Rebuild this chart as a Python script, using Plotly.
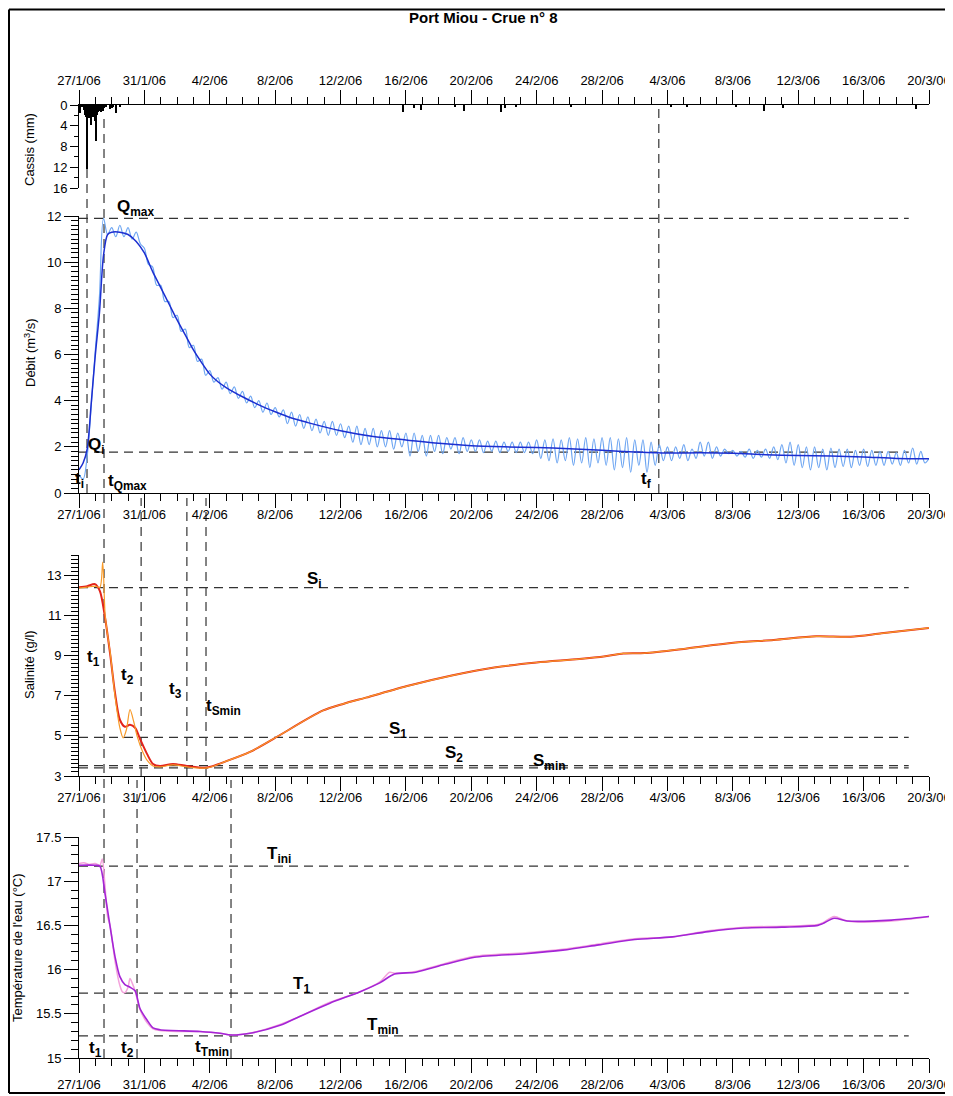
import pandas as pd
import plotly.graph_objects as go

# page body has an 8 px margin: the figure is drawn at (8, 8) in the window
OFF = 8
W, H = 945, 1088
START = pd.Timestamp("2006-01-27")
END = pd.Timestamp("2006-03-20")

# ---------------- DATA ----------------
# Rain at Cassis (hours after 27/1/06 00:00, mm)
rain_hours = [1, 2, 4, 7, 9, 10, 12, 14, 15, 17, 18, 20, 21, 23, 24, 25, 27, 28, 31, 33, 35, 37, 40, 46, 48, 50, 55, 60,
              475, 476, 492, 502, 552, 566, 619, 625, 641, 722, 869, 893, 965, 1006, 1034, 1229]
rain_mm = [1.5, 1.2, 0.4, 0.9, 2.0, 2.3, 12.3, 2.2, 2.6, 3.8, 2.0, 2.4, 2.2, 2.8, 3.0, 7.0, 2.0, 1.4, 1.2, 1.3, 1.1, 0.6, 0.3, 0.8, 0.5, 0.4, 1.5, 0.3,
           1.3, 0.9, 0.5, 0.9, 0.2, 1.2, 1.4, 0.6, 0.2, 0.2, 0.2, 0.4, 0.2, 1.2, 0.5, 0.8]

# Discharge (m3/s) - smoothed
q_smooth_days = [0, 0.25, 0.5, 0.75, 1.0, 1.25, 1.5, 1.75, 2.0, 2.5, 3.0, 3.5, 4.0, 4.5, 5.0, 5.5, 6.0, 6.5, 7.0, 7.5, 8.0,
                 8.5, 9, 10, 11, 12, 13, 14, 16, 18, 20, 22, 24, 26, 28, 30, 32, 34, 36, 38, 40, 42, 44, 46, 48, 50, 52]
q_smooth = [1.0, 1.3, 1.9, 3.9, 6.0, 7.8, 10.3, 11.2, 11.3, 11.3, 11.2, 10.9, 10.4, 9.6, 8.9, 8.2, 7.5, 6.85, 6.2, 5.65, 5.15,
            4.82, 4.57, 4.17, 3.82, 3.52, 3.25, 3.05, 2.7, 2.45, 2.3, 2.15, 2.05, 2.0, 1.97, 1.92, 1.85, 1.78, 1.73, 1.74,
            1.72, 1.66, 1.62, 1.6, 1.56, 1.5, 1.48]

# Discharge (m3/s) - raw record, one value every 6 hours
q_raw_step_days = 0.25
q_raw = [
    0.8, 0.6, 1.6, 3.8, 6.2, 8.5, 11.9, 11.2, 11.5, 11.1, 11.6, 11.1, 11.5, 11.0, 11.3, 10.8,
    10.6, 9.9, 9.8, 9.0, 9.0, 8.3, 8.3, 7.6, 7.7, 7.0, 7.1, 6.3, 6.4, 5.7, 5.8, 5.1,
    5.3, 4.8, 5.0, 4.5, 4.8, 4.3, 4.6, 4.1, 4.4, 3.9, 4.2, 3.7, 4.0, 3.5, 3.9, 3.4,
    3.7, 3.3, 3.6, 3.0, 3.5, 2.9, 3.4, 2.8, 3.3, 2.7, 3.2, 2.6, 3.1, 2.5, 3.1, 2.5,
    3.0, 2.4, 2.9, 2.2, 2.9, 2.1, 2.8, 2.1, 2.8, 2.0, 2.7, 2.0, 2.7, 1.9, 2.6, 2.0,
    2.6, 1.6, 2.6, 1.8, 2.5, 1.6, 2.5, 1.8, 2.5, 1.7, 2.4, 1.9, 2.4, 1.7, 2.4, 1.8,
    2.3, 1.8, 2.3, 1.75, 2.25, 1.8, 2.25, 1.75, 2.2, 1.8, 2.2, 1.75, 2.2, 1.75, 2.2, 1.7,
    2.3, 1.5, 2.3, 1.4, 2.35, 1.3, 2.3, 1.4, 2.4, 1.2, 2.35, 1.3, 2.4, 1.1, 2.35, 1.3,
    2.4, 1.2, 2.4, 1.0, 2.35, 1.1, 2.4, 0.9, 2.3, 1.2, 2.3, 0.9, 2.2, 1.2, 2.1, 1.4,
    2.0, 1.4, 2.0, 1.5, 2.1, 1.4, 1.9, 1.5, 2.2, 1.6, 2.2, 1.5, 2.0, 1.6, 1.9, 1.7,
    1.85, 1.6, 1.8, 1.55, 1.9, 1.5, 1.85, 1.55, 1.9, 1.5, 2.0, 1.45, 2.1, 1.3, 2.2, 1.2,
    2.1, 1.1, 2.0, 1.0, 2.0, 1.1, 1.9, 1.0, 1.95, 1.1, 1.9, 1.15, 1.9, 1.1, 1.85, 1.2,
    1.9, 1.15, 1.85, 1.2, 1.8, 1.2, 1.8, 1.25, 1.75, 1.2, 1.85, 1.3, 1.95, 1.25, 1.8, 1.3, 1.5,
]

# Salinity (g/l)
sal_days = [0, 0.5, 0.98, 1.28, 1.59, 1.9, 2.2, 2.5, 2.81, 3.12, 3.43, 3.73, 4.16, 4.53, 4.95, 5.75, 6.6, 7.83, 9.05,
            10.46, 11.9, 14.9, 16.2, 17.55, 20.2, 22.8, 25.4, 28.0, 30.6, 32.2, 33.3, 34.6, 37.2, 39.9, 42.5, 45.1,
            47.2, 49.1, 52]
sal_smooth = [12.4, 12.45, 12.55, 12.2, 10.9, 9.1, 7.15, 5.8, 5.45, 5.55, 5.4, 4.85, 4.1, 3.6, 3.5, 3.6, 3.5, 3.42, 3.75,
              4.2, 4.85, 6.25, 6.6, 6.9, 7.5, 8.0, 8.4, 8.65, 8.82, 8.96, 9.1, 9.12, 9.35, 9.62, 9.77, 9.95,
              9.93, 10.1, 10.37]
sal_raw_days = [0, 0.5, 0.98, 1.28, 1.45, 1.6, 1.75, 1.9, 2.2, 2.5, 2.7, 2.9, 3.12, 3.35, 3.55, 3.9, 4.2, 4.53, 4.95,
                5.75, 6.6, 7.83, 9.05, 10.46, 11.9, 14.9, 16.2, 17.55, 20.2, 22.8, 25.4, 28.0, 30.6, 32.2, 33.3,
                34.6, 37.2, 39.9, 42.5, 45.1, 47.2, 49.1, 52]
sal_raw = [12.35, 12.4, 12.45, 12.4, 13.65, 11.0, 10.0, 9.2, 7.0, 5.4, 4.9, 5.3, 6.3, 5.7, 5.0, 4.2, 3.75, 3.5, 3.45,
           3.55, 3.45, 3.4, 3.75, 4.2, 4.85, 6.25, 6.6, 6.9, 7.5, 8.0, 8.4, 8.65, 8.82, 8.96, 9.1,
           9.12, 9.35, 9.62, 9.77, 9.95, 9.93, 10.1, 10.37]

# Water temperature (deg C)
temp_days = [0, 0.98, 1.28, 1.59, 1.9, 2.2, 2.5, 2.81, 3.12, 3.43, 3.73, 4.16, 4.53, 4.95, 7.4, 8.62, 9.3, 10.46, 12.3,
             13.5, 15.35, 17.2, 18.4, 19.3, 20.6, 22.4, 24.2, 27.3, 29.6, 31.8, 34.0, 36.3, 38.5, 40.7, 43.0, 45.2,
             45.5, 46.2, 47.0, 49.7, 52]
temp_smooth = [17.18, 17.18, 17.17, 16.86, 16.49, 16.15, 15.92, 15.83, 15.80, 15.76, 15.56, 15.43, 15.34, 15.32, 15.30,
               15.28, 15.26, 15.28, 15.37, 15.47, 15.62, 15.75, 15.85, 15.95, 15.97, 16.06, 16.14, 16.18, 16.22,
               16.28, 16.34, 16.37, 16.43, 16.47, 16.48, 16.5, 16.52, 16.58, 16.55, 16.56, 16.6]
temp_raw_days = [0, 0.3, 0.6, 0.98, 1.28, 1.42, 1.59, 1.75, 1.9, 2.2, 2.5, 2.65, 2.81, 3.0, 3.12, 3.25, 3.43, 3.73,
                 4.16, 4.53, 4.95, 6.0, 7.4, 8.62, 9.3, 10.46, 12.3, 13.5, 15.35, 17.2, 18.4, 19.0, 19.3, 20.6, 22.4,
                 24.2, 27.3, 29.6, 31.8, 34.0, 36.3, 38.5, 40.7, 43.0, 45.2, 45.5, 46.2, 47.0, 49.7, 52]
temp_raw = [17.2, 17.21, 17.19, 17.2, 17.18, 17.25, 16.95, 16.6, 16.5, 16.1, 15.82, 15.75, 15.74, 15.8, 15.9, 15.85,
            15.76, 15.55, 15.4, 15.33, 15.31, 15.3, 15.3, 15.28, 15.26, 15.28, 15.38, 15.47, 15.63, 15.75, 15.86,
            15.97, 15.96, 15.98, 16.07, 16.15, 16.19, 16.23, 16.29, 16.35, 16.37, 16.44, 16.48, 16.49, 16.51, 16.53,
            16.6, 16.55, 16.55, 16.6]

# Reference levels
q_levels = {"Qmax": 11.9, "Qi": 1.77}
s_levels = {"Si": 12.38, "S1": 4.92, "S2": 3.52, "Smin": 3.4}
t_levels = {"Tini": 17.17, "T1": 15.735, "Tmin": 15.25}
level_end_day = 50.76

# Characteristic times (days after 27/1/06)
t_i, t_qmax, t_f = 0.49, 1.53, 35.47
t2_sal, t3_sal, t_smin = 3.8, 6.6, 7.77
t2_temp, t_tmin = 3.55, 9.3

x_ticks_label = "%-d/%-m/%y"

# ---------------- HELPERS ----------------
def dt(days):
    return [START + pd.Timedelta(days=float(d)) for d in days]

def px(x):  # window pixel -> paper fraction
    return (x - OFF) / W

def py(y):
    return 1 - (y - OFF) / H

FONT = "Liberation Sans, Arial, sans-serif"
DASH_COLOR = "#333333"
DASH = "9px,6px"

fig = go.Figure()

# Rain bars
fig.add_trace(go.Bar(x=[START + pd.Timedelta(hours=h) for h in rain_hours], y=rain_mm,
                     width=1.5 * 3600 * 1000, marker=dict(color="black", line=dict(width=0)),
                     xaxis="x", yaxis="y", showlegend=False))

# Discharge
q_raw_days = [i * q_raw_step_days for i in range(len(q_raw))]
fig.add_trace(go.Scatter(x=dt(q_raw_days), y=q_raw, mode="lines",
                         line=dict(color="#6ea6f2", width=1.2, shape="spline", smoothing=1.0),
                         xaxis="x2", yaxis="y2", showlegend=False))
fig.add_trace(go.Scatter(x=dt(q_smooth_days), y=q_smooth, mode="lines",
                         line=dict(color="#1c2fd0", width=1.5, shape="spline", smoothing=0.8),
                         xaxis="x2", yaxis="y2", showlegend=False))

# Salinity (smoothed red below, raw orange on top)
fig.add_trace(go.Scatter(x=dt(sal_days), y=sal_smooth, mode="lines",
                         line=dict(color="#e3241b", width=2.0, shape="spline", smoothing=0.8),
                         xaxis="x3", yaxis="y3", showlegend=False))
fig.add_trace(go.Scatter(x=dt(sal_raw_days), y=sal_raw, mode="lines",
                         line=dict(color="#f79a2a", width=1.2, shape="spline", smoothing=0.8),
                         xaxis="x3", yaxis="y3", showlegend=False))

# Temperature
fig.add_trace(go.Scatter(x=dt(temp_raw_days), y=temp_raw, mode="lines",
                         line=dict(color="#f4a3dc", width=1.5, shape="spline", smoothing=0.8),
                         xaxis="x4", yaxis="y4", showlegend=False))
fig.add_trace(go.Scatter(x=dt(temp_days), y=temp_smooth, mode="lines",
                         line=dict(color="#a424d6", width=1.6, shape="spline", smoothing=0.8),
                         xaxis="x4", yaxis="y4", showlegend=False))

# ---------------- AXES ----------------
XDOM = [px(79), px(929)]
DAY_MS = 86400000


def xaxis(anchor, side, standoff=None):
    ax = dict(domain=XDOM, anchor=anchor, side=side, type="date",
              range=[START, END], tick0=START, dtick=4 * DAY_MS, tickformat=x_ticks_label,
              showline=True, linecolor="black", linewidth=1, ticks="outside", ticklen=14,
              tickcolor="black", tickwidth=1, showgrid=False, zeroline=False, automargin=False,
              tickfont=dict(family=FONT, size=13, color="black"),
              minor=dict(ticks="outside", ticklen=7, dtick=DAY_MS, tick0=START, tickcolor="black",
                         tickwidth=1, showgrid=False))
    if standoff is not None:
        ax["ticklabelstandoff"] = standoff
    return ax


def yaxis(anchor_x, top_px, bot_px, rng, tickvals, minor_dtick, minor_len=7, major_len=14):
    return dict(domain=[py(bot_px), py(top_px)], anchor=anchor_x, range=rng, tickvals=tickvals,
                showline=True, linecolor="black", linewidth=1, ticks="outside", ticklen=major_len,
                tickcolor="black", tickwidth=1, showgrid=False, zeroline=False, automargin=False,
                tickfont=dict(family=FONT, size=13, color="black"),
                minor=dict(ticks="outside", ticklen=minor_len, dtick=minor_dtick, tick0=rng[0] if rng[0] < rng[1] else 0,
                           tickcolor="black", tickwidth=1, showgrid=False))


fig.update_layout(
    width=W, height=H, margin=dict(l=0, r=0, t=0, b=0),
    paper_bgcolor="white", plot_bgcolor="rgba(0,0,0,0)", showlegend=False, bargap=0,
    font=dict(family=FONT, color="black"),
    xaxis=xaxis("y", "top"),
    xaxis2=xaxis("y2", "bottom", standoff=-5),
    xaxis3=xaxis("y3", "bottom", standoff=-5),
    xaxis4=xaxis("y4", "bottom"),
    yaxis=yaxis("x", 105, 188, [16, 0], [0, 4, 8, 12, 16], 2, minor_len=4, major_len=8),
    yaxis2=yaxis("x2", 216, 493, [0, 12], [0, 2, 4, 6, 8, 10, 12], 0.2),
    yaxis3=yaxis("x3", 555, 776, [3, 14], [3, 5, 7, 9, 11, 13], 0.2),
    yaxis4=yaxis("x4", 837, 1058, [15, 17.5], [15, 15.5, 16, 16.5, 17, 17.5], 0.1),
)

# ---------------- REFERENCE LINES ----------------
shapes = []
line_style = dict(color=DASH_COLOR, width=1.2, dash=DASH)


def vline(day, top_px, bot_px):
    t = START + pd.Timedelta(days=day)
    shapes.append(dict(type="line", xref="x", yref="paper", x0=t, x1=t, y0=py(bot_px), y1=py(top_px),
                       line=line_style, layer="below"))


def hline(value, yref):
    shapes.append(dict(type="line", xref="x", yref=yref, x0=START, x1=START + pd.Timedelta(days=level_end_day),
                       y0=value, y1=value, line=line_style, layer="below"))


vline(t_i, 110, 493)
vline(t_qmax, 118, 1058)
vline(t_f, 106, 493)
vline(t2_sal, 498, 776)
vline(t3_sal, 498, 776)
vline(t_smin, 498, 776)
vline(t2_temp, 780, 1058)
vline(t_tmin, 780, 1058)

for v in q_levels.values():
    hline(v, "y2")
for v in s_levels.values():
    hline(v, "y3")
for v in t_levels.values():
    hline(v, "y4")

# outer frame (left, top, bottom edges; the right edge lies beyond the picture)
frame = dict(color="black", width=2)
for (xa, ya, xb, yb) in [(9, 9.5, 9, 1093), (9, 9.5, 953, 9.5), (9, 1093, 953, 1093)]:
    shapes.append(dict(type="line", xref="paper", yref="paper", x0=px(xa), y0=py(ya), x1=px(xb), y1=py(yb),
                       line=frame))
fig.update_layout(shapes=shapes)

# ---------------- TEXT ----------------
ann = []


def label(text, x, y, size=17, bold=True, anchor="left"):
    ann.append(dict(text=f"<b>{text}</b>" if bold else text, x=px(x), y=py(y), xref="paper", yref="paper",
                    xanchor=anchor, yanchor="middle", showarrow=False,
                    font=dict(family=FONT, size=size, color="black")))


def ylabel(text, x, y):
    ann.append(dict(text=text, x=px(x), y=py(y), xref="paper", yref="paper", xanchor="center",
                    yanchor="middle", textangle=-90, showarrow=False,
                    font=dict(family=FONT, size=13, color="black")))


label("Port Miou - Crue n° 8", 484, 17, size=15, anchor="center")

ylabel("Cassis (mm)", 30, 150)
ylabel("Débit (m<sup>3</sup>/s)", 30, 353)
ylabel("Salinité (g/l)", 29, 665)
ylabel("Température de l'eau (°C)", 17, 948)

label("Q<sub>max</sub>", 115, 208)
label("Q<sub>i</sub>", 86, 446)
label("t<sub>i</sub>", 73, 480)
label("t<sub>Qmax</sub>", 106, 482)
label("t<sub>f</sub>", 639, 480)

label("S<sub>i</sub>", 305, 580)
label("t<sub>1</sub>", 85, 658)
label("t<sub>2</sub>", 119, 676)
label("t<sub>3</sub>", 167, 690)
label("t<sub>Smin</sub>", 204, 707)
label("S<sub>1</sub>", 387, 730)
label("S<sub>2</sub>", 443, 754)
label("S<sub>min</sub>", 531, 762)

label("T<sub>ini</sub>", 265, 855)
label("T<sub>1</sub>", 291, 985)
label("T<sub>min</sub>", 365, 1026)
label("t<sub>1</sub>", 87, 1049)
label("t<sub>2</sub>", 119, 1049)
label("t<sub>Tmin</sub>", 193, 1048)

fig.update_layout(annotations=ann)

fig.write_html("out.html")
